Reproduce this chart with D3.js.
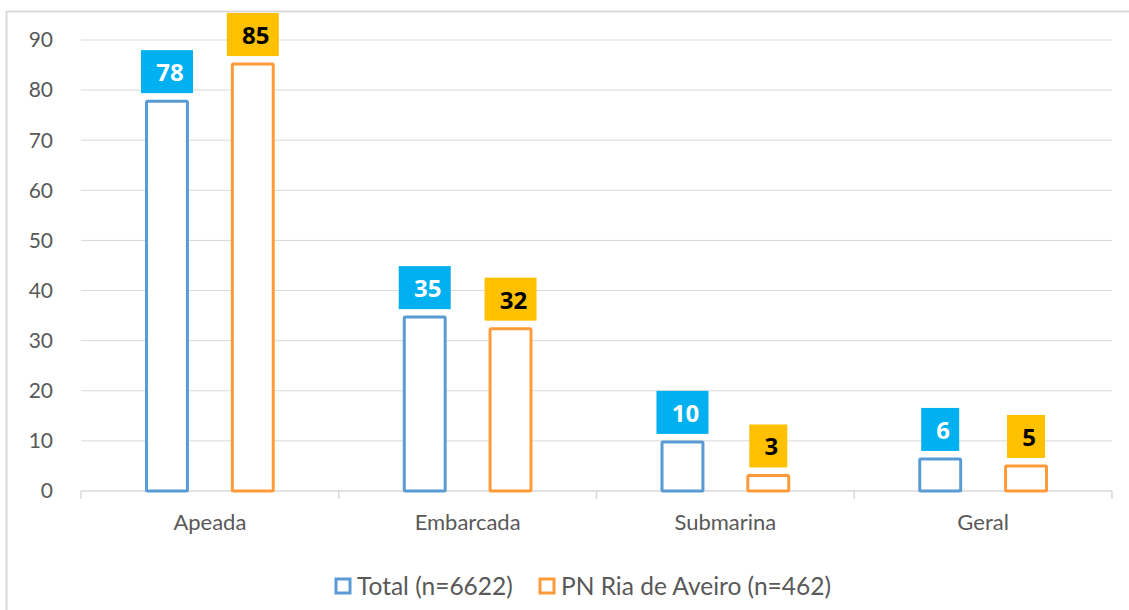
<!DOCTYPE html>
<html>
<head>
<meta charset="utf-8">
<script src="https://cdn.jsdelivr.net/npm/d3@7"></script>
<style>
  body { margin: 0; background: #fff; }
  svg { display: block; font-family: Lato, "Open Sans", sans-serif; }
</style>
</head>
<body>
<div id="chart"></div>
<script>
// data
const categories = ["Apeada", "Embarcada", "Submarina", "Geral"];
const seriesNames = ["Total (n=6622)", "PN Ria de Aveiro (n=462)"];
const totalValues = [77.8, 34.7, 9.8, 6.4];
const riaValues = [85.2, 32.4, 3.1, 5.0];
const totalLabels = ["78", "35", "10", "6"];
const riaLabels = ["85", "32", "3", "5"];
const yTicks = [0, 10, 20, 30, 40, 50, 60, 70, 80, 90];

const width = 1129, height = 610;
const margin = { left: 81, right: 17, top: 40, bottom: 119 };

const strokeColors = ["#5B9BD5", "#FF9A3B"];
const boxColors = ["#00B0F0", "#FFC000"];
const boxText = ["#ffffff", "#000000"];

const svg = d3.select("#chart").append("svg")
  .attr("width", width).attr("height", height);

// outer chart border (top + left only visible)
svg.append("path")
  .attr("d", `M6.5,${height} V11.5 H${width}`)
  .attr("fill", "none").attr("stroke", "#D9D9D9").attr("stroke-width", 2);

const x = d3.scaleBand().domain(categories)
  .range([margin.left, width - margin.right]);
const inner = d3.scaleBand().domain([0, 1])
  .range([64, x.bandwidth() - 64]).paddingInner(0.488);
const y = d3.scaleLinear().domain([0, 90])
  .range([height - margin.bottom, margin.top]);

// gridlines
svg.append("g").selectAll("line").data(yTicks.slice(1)).join("line")
  .attr("x1", margin.left).attr("x2", width - margin.right)
  .attr("y1", d => y(d)).attr("y2", d => y(d))
  .attr("stroke", "#D9D9D9").attr("stroke-width", 1);

// y tick labels
svg.append("g").selectAll("text").data(yTicks).join("text")
  .attr("x", 53).attr("y", d => y(d))
  .attr("dy", "0.35em").attr("text-anchor", "end")
  .attr("fill", "#595959").attr("font-size", 21)
  .text(d => d);

// x axis
const xAxis = svg.append("g")
  .attr("transform", `translate(0,${y(0)})`);
xAxis.append("line")
  .attr("x1", margin.left).attr("x2", width - margin.right)
  .attr("stroke", "#D9D9D9").attr("stroke-width", 1.5);
const bounds = categories.map(c => x(c)).concat([x(categories[3]) + x.bandwidth()]);
xAxis.selectAll(".tk").data(bounds).join("line")
  .attr("class", "tk")
  .attr("x1", d => d).attr("x2", d => d)
  .attr("y1", 0).attr("y2", 8)
  .attr("stroke", "#D9D9D9").attr("stroke-width", 1.5);
xAxis.selectAll("text").data(categories).join("text")
  .attr("x", d => x(d) + x.bandwidth() / 2)
  .attr("y", 39)
  .attr("text-anchor", "middle")
  .attr("fill", "#595959").attr("font-size", 22)
  .text(d => d);

const series = [
  { values: totalValues, labels: totalLabels },
  { values: riaValues, labels: riaLabels }
];

series.forEach((s, si) => {
  const g = svg.append("g");
  g.selectAll("rect").data(categories).join("rect")
    .attr("x", (d) => x(d) + inner(si) + 1.5)
    .attr("width", inner.bandwidth() - 3)
    .attr("y", (d, i) => y(s.values[i]))
    .attr("height", (d, i) => y(0) - y(s.values[i]))
    .attr("fill", "#fff")
    .attr("stroke", strokeColors[si]).attr("stroke-width", 3)
    .attr("rx", 1);

  // data labels
  const lab = g.selectAll("g.lab").data(categories).join("g")
    .attr("class", "lab")
    .attr("transform", (d, i) =>
      `translate(${x(d) + inner(si) + inner.bandwidth() / 2},${y(s.values[i]) - 8})`);
  lab.each(function (d, i) {
    const el = d3.select(this);
    const txt = s.labels[i];
    const w = txt.length > 1 ? 52 : 38;
    el.append("rect")
      .attr("x", -w / 2).attr("y", -43)
      .attr("width", w).attr("height", 43)
      .attr("fill", boxColors[si]);
    el.append("text")
      .attr("x", 3).attr("y", -12)
      .attr("text-anchor", "middle")
      .attr("font-family", "'Open Sans', sans-serif")
      .attr("font-size", 24).attr("font-weight", "bold")
      .attr("fill", boxText[si])
      .text(txt);
  });
});

// legend
const legend = svg.append("g").attr("transform", "translate(0,586)");
const legendX = [336, 540];
seriesNames.forEach((n, i) => {
  legend.append("rect")
    .attr("x", legendX[i]).attr("y", -7)
    .attr("width", 14).attr("height", 14)
    .attr("fill", "#fff")
    .attr("stroke", strokeColors[i]).attr("stroke-width", 3);
  legend.append("text")
    .attr("x", legendX[i] + 21).attr("y", 0)
    .attr("dy", "0.35em")
    .attr("fill", "#595959").attr("font-size", 24.5)
    .text(n);
});
</script>
</body>
</html>
